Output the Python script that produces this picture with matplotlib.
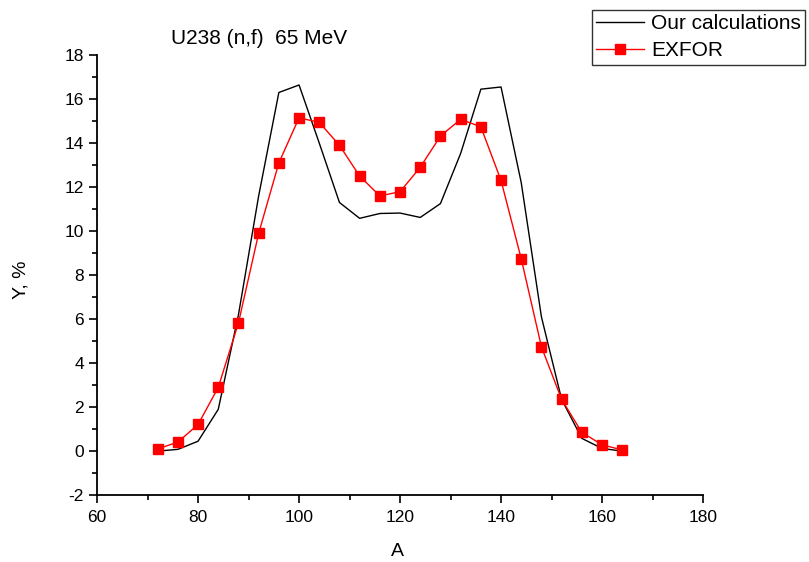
import matplotlib
matplotlib.use("Agg")
import matplotlib.pyplot as plt
from matplotlib.ticker import MultipleLocator

plt.rcParams["font.family"] = ["Liberation Sans", "DejaVu Sans"]
plt.rcParams["axes.unicode_minus"] = False

# mass numbers
A_CALC = [72, 76, 80, 84, 88, 92, 96, 100, 104, 108, 112, 116, 120, 124, 128,
          132, 136, 140, 144, 148, 152, 156, 160, 164]
Y_CALC = [0.0, 0.08, 0.45, 1.9, 6.2, 11.6, 16.3, 16.64, 14.0, 11.3, 10.58, 10.8,
          10.82, 10.62, 11.25, 13.53, 16.45, 16.55, 12.2, 6.1, 2.35, 0.58, 0.12, 0.0]

A_EXFOR = [72, 76, 80, 84, 88, 92, 96, 100, 104, 108, 112, 116, 120, 124, 128,
           132, 136, 140, 144, 148, 152, 156, 160, 164]
Y_EXFOR = [0.1, 0.41, 1.21, 2.9, 5.83, 9.9, 13.1, 15.15, 14.94, 13.9, 12.5, 11.6,
           11.79, 12.9, 14.32, 15.08, 14.74, 12.3, 8.74, 4.74, 2.35, 0.85, 0.29, 0.05]

fig = plt.figure(figsize=(8.09, 5.62), dpi=100)
ax = fig.add_axes([0.12, 0.119, 0.749, 0.783])

ax.plot(A_CALC, Y_CALC, color="black", linewidth=1.0, label="Our calculations")
ax.plot(A_EXFOR, Y_EXFOR, color="red", linewidth=1.0, marker="s", markersize=7,
        label="EXFOR")

ax.set_xlim(60, 180)
ax.set_ylim(-2, 18)
ax.xaxis.set_major_locator(MultipleLocator(20))
ax.xaxis.set_minor_locator(MultipleLocator(10))
ax.yaxis.set_major_locator(MultipleLocator(2))
ax.yaxis.set_minor_locator(MultipleLocator(1))
ax.tick_params(which="major", direction="out", length=6, width=1.2, labelsize=12.5)
ax.tick_params(axis="x", which="major", pad=5)
ax.tick_params(which="minor", direction="out", length=3.5, width=1.2)
for s in ["top", "right"]:
    ax.spines[s].set_visible(False)
for s in ["left", "bottom"]:
    ax.spines[s].set_linewidth(1.3)

ax.set_xlabel("A", fontsize=14)
ax.set_ylabel("Y, %", fontsize=14)
ax.xaxis.set_label_coords(0.495, -0.108)
ax.yaxis.set_label_coords(-0.112, 0.49)

fig.text(171 / 809, 1 - 38 / 562, "U238 (n,f)  65 MeV", fontsize=15,
         va="center", ha="left")

leg = fig.legend(loc="upper right", bbox_to_anchor=(805 / 809, 1 - 10 / 562),
                 fontsize=15, frameon=True, fancybox=False, handlelength=2.3,
                 borderpad=0.2, labelspacing=0.4, handletextpad=0.35,
                 borderaxespad=0)
leg.get_frame().set_edgecolor("black")
leg.get_frame().set_linewidth(1.0)

fig.savefig("out.png", dpi=100)
